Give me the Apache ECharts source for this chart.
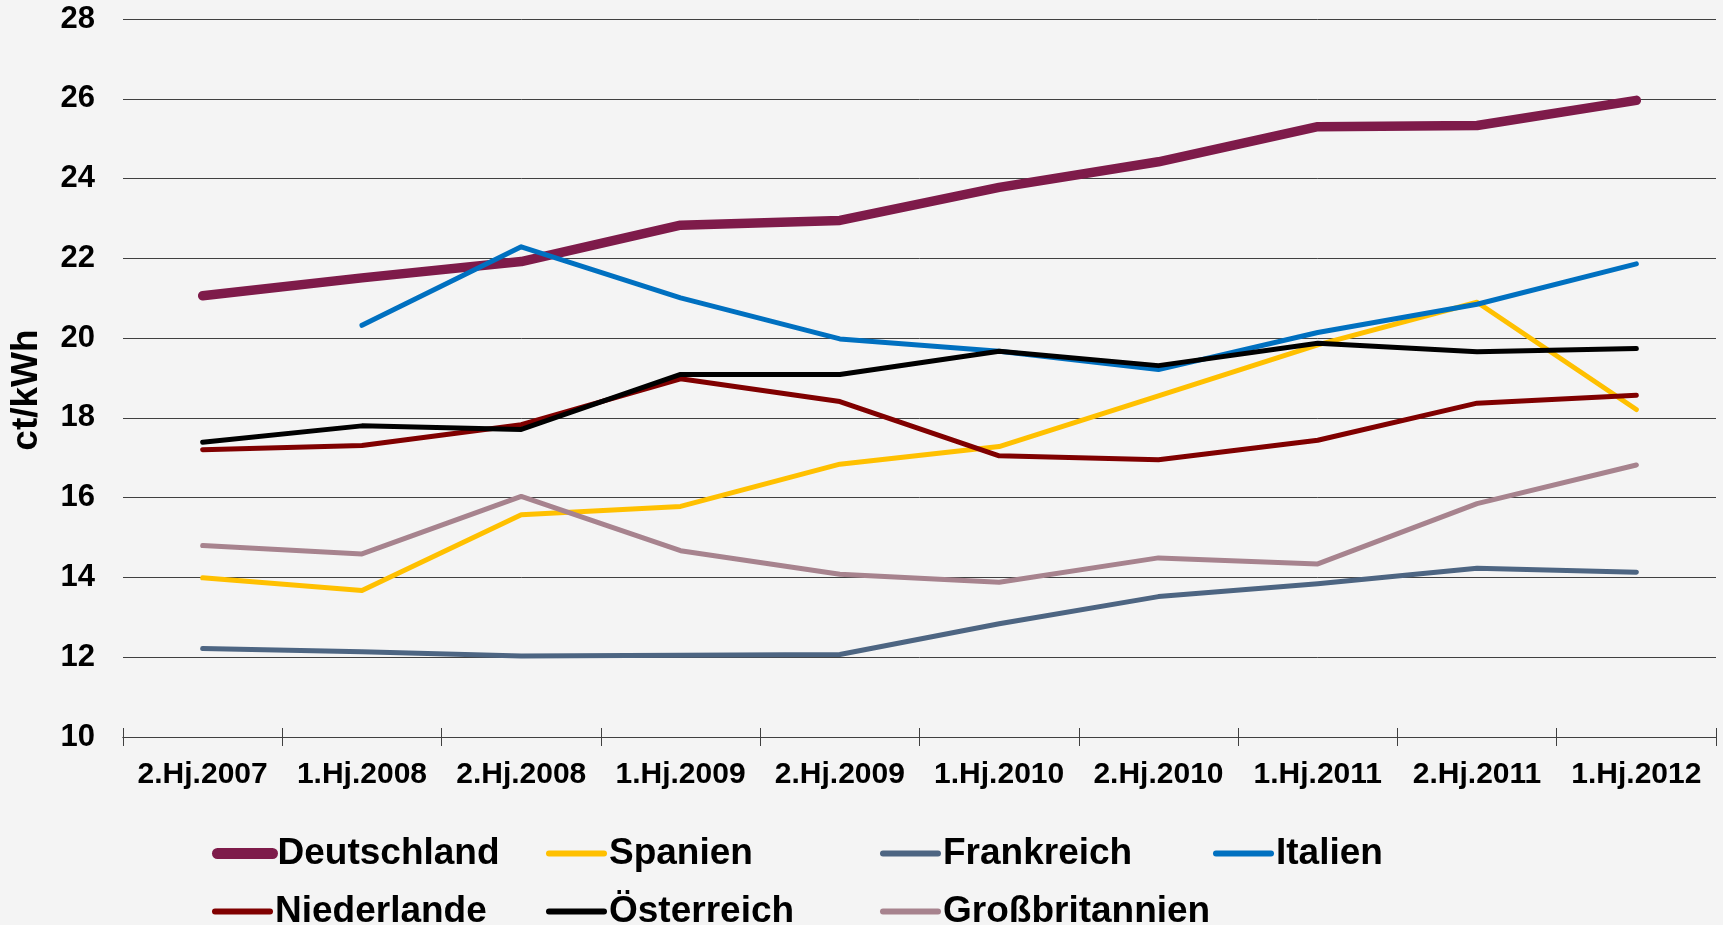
<!DOCTYPE html>
<html>
<head>
<meta charset="utf-8">
<script src="https://cdn.jsdelivr.net/npm/echarts@6/dist/echarts.min.js"></script>
<style>
html,body{margin:0;padding:0;background:#f4f4f4;}
#chart{width:1723px;height:925px;}
</style>
</head>
<body>
<div id="chart"></div>
<script>
const categories = ['2.Hj.2007','1.Hj.2008','2.Hj.2008','1.Hj.2009','2.Hj.2009','1.Hj.2010','2.Hj.2010','1.Hj.2011','2.Hj.2011','1.Hj.2012'];
const deutschland = [21.06, 21.51, 21.92, 22.83, 22.95, 23.78, 24.42, 25.30, 25.33, 25.96];
const spanien = [13.99, 13.67, 15.57, 15.78, 16.84, 17.28, 18.55, 19.83, 20.90, 18.21];
const frankreich = [12.22, 12.14, 12.03, 12.05, 12.07, 12.84, 13.52, 13.84, 14.23, 14.13];
const italien = [null, 20.32, 22.29, 21.01, 19.98, 19.67, 19.21, 20.14, 20.85, 21.86];
const niederlande = [17.20, 17.31, 17.83, 18.98, 18.41, 17.05, 16.95, 17.44, 18.37, 18.57];
const oesterreich = [17.39, 17.80, 17.71, 19.09, 19.09, 19.67, 19.31, 19.87, 19.66, 19.74];
const grossbritannien = [14.80, 14.59, 16.03, 14.67, 14.08, 13.88, 14.49, 14.34, 15.85, 16.82];
const yTicks = {min: 10, max: 28, interval: 2};
const yName = 'ct/kWh';

const seriesDefs = [
  {name: 'Deutschland', data: deutschland, color: '#7E1B4A', width: 9.5, legendWidth: 11},
  {name: 'Spanien', data: spanien, color: '#FFC000', width: 5, legendWidth: 6},
  {name: 'Frankreich', data: frankreich, color: '#4D6582', width: 5, legendWidth: 6},
  {name: 'Italien', data: italien, color: '#0070C0', width: 5, legendWidth: 6},
  {name: 'Niederlande', data: niederlande, color: '#800000', width: 5, legendWidth: 6},
  {name: 'Österreich', data: oesterreich, color: '#000000', width: 5, legendWidth: 6},
  {name: 'Großbritannien', data: grossbritannien, color: '#A7838E', width: 5, legendWidth: 6}
];
const legendPos = [
  [212, 835], [546, 835], [880, 835], [1213, 835],
  [212, 893], [546, 893], [880, 893]
];

const FONT = '"Liberation Sans", Arial, sans-serif';
const chart = echarts.init(document.getElementById('chart'), null, {renderer: 'canvas'});
chart.setOption({
  backgroundColor: '#f4f4f4',
  animation: false,
  textStyle: {fontFamily: FONT},
  grid: {left: 123, right: 7, top: 19, bottom: 188, containLabel: false},
  legend: seriesDefs.map((s, i) => ({
    data: [s.name],
    left: legendPos[i][0],
    top: legendPos[i][1],
    padding: 0,
    itemWidth: 55,
    itemHeight: 14,
    selectedMode: false,
    itemStyle: {opacity: 0},
    lineStyle: {width: s.legendWidth, cap: 'round', opacity: 1},
    textStyle: {fontFamily: FONT, fontSize: 37, fontWeight: 'bold', color: '#000', lineHeight: 37}
  })),
  xAxis: [{
    type: 'category',
    data: categories,
    boundaryGap: true,
    position: 'bottom',
    axisLine: {show: true, lineStyle: {color: '#404040', width: 1}},
    axisTick: {show: true, inside: false, length: 9, lineStyle: {color: '#404040'}},
    axisLabel: {interval: 0, margin: 23, fontFamily: FONT, fontSize: 30, fontWeight: 'bold', color: '#000'},
    splitLine: {show: false}
  }, {
    type: 'category',
    data: categories,
    boundaryGap: true,
    position: 'bottom',
    offset: 0,
    axisLine: {show: true, lineStyle: {color: '#404040', width: 1}},
    axisTick: {show: true, inside: true, length: 9, lineStyle: {color: '#404040'}},
    axisLabel: {show: false},
    splitLine: {show: false}
  }],
  yAxis: {
    type: 'value',
    min: yTicks.min,
    max: yTicks.max,
    interval: yTicks.interval,
    name: yName,
    nameLocation: 'middle',
    nameGap: 78,
    nameRotate: 90,
    nameTextStyle: {fontFamily: FONT, fontSize: 37, fontWeight: 'bold', color: '#000', padding: [0, 24, 0, 0]},
    axisLine: {show: false},
    axisTick: {show: false},
    axisLabel: {margin: 28, fontFamily: FONT, fontSize: 31, fontWeight: 'bold', color: '#000'},
    splitLine: {show: true, lineStyle: {color: '#404040', width: 1}}
  },
  series: seriesDefs.map(s => ({
    name: s.name,
    type: 'line',
    data: s.data,
    xAxisIndex: 0,
    symbol: 'none',
    connectNulls: false,
    color: s.color,
    lineStyle: {color: s.color, width: s.width, cap: 'round', join: 'round'}
  }))
});
</script>
</body>
</html>
